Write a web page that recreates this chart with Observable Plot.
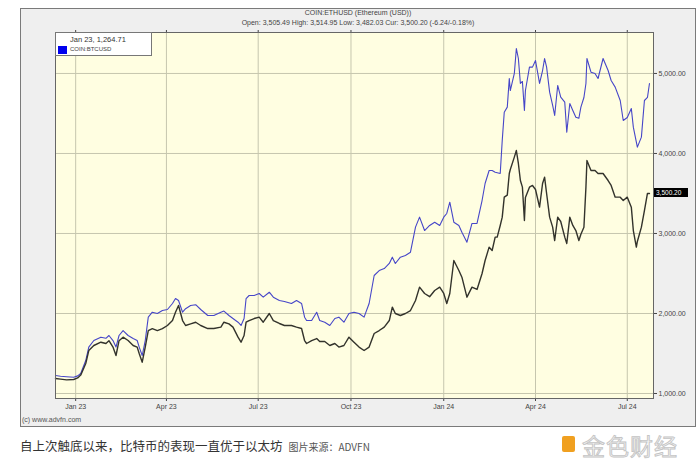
<!DOCTYPE html>
<html>
<head>
<meta charset="utf-8">
<script src="https://cdn.jsdelivr.net/npm/d3@7"></script>
<script src="https://cdn.jsdelivr.net/npm/@observablehq/plot@0.6"></script>
<style>
  html, body { margin: 0; padding: 0; background: #fff; }
  #wrap { position: relative; width: 700px; height: 462px; overflow: hidden; font-family: "Liberation Sans", Arial, sans-serif; }
  #frame { position: absolute; left: 20px; top: 8px; width: 674px; height: 417px; background: #efefef; border: 1px solid #7a7a7a; }
  .t1, .t2 { position: absolute; left: 20px; width: 676px; text-align: center; color: #444; font-size: 7px; }
  .t1 { top: 9px; }
  .t2 { top: 19px; }
  #chart { position: absolute; left: 0; top: 0; }
  #legend { position: absolute; left: 55px; top: 32px; width: 97px; height: 24px; background: #fff; border: 1px solid #777; box-sizing: border-box; }
  #legend .l1 { position: absolute; left: 14px; top: 2px; font-size: 7.5px; color: #333; }
  #legend .sw { position: absolute; left: 2px; top: 13px; width: 9px; height: 8px; background: #0000ee; }
  #legend .l2 { position: absolute; left: 14px; top: 13px; font-size: 6px; color: #444; }
  #cur { position: absolute; left: 654px; width: 34px; height: 9px; background: #000; color: #fff; font-size: 6.5px; line-height: 9px; text-align: left; padding-left: 2px; box-sizing: border-box; }
  #copy { position: absolute; left: 22px; top: 416px; font-size: 7px; color: #555; }
  #cap { position: absolute; left: 20px; top: 436px; font-family: "Noto Sans CJK SC", sans-serif; font-size: 12.5px; color: #333; white-space: nowrap; }
  #cap small { font-size: 10px; color: #555; margin-left: 6px; }
  #logo { position: absolute; left: 562px; top: 430px; }
  #logo .ic { position: absolute; left: 0; top: 6px; width: 13px; height: 16px; background: #f0a020; border-radius: 2px; }
  #logo .tx { position: absolute; left: 20px; top: -2px; font-family: "Noto Sans CJK SC", sans-serif; font-size: 23px; color: #f6f6f6; -webkit-text-stroke: 0.9px #c4c4c4; letter-spacing: 1px; white-space: nowrap; }
</style>
</head>
<body>
<div id="wrap">
  <div id="frame"></div>
  <div class="t1">COIN:ETHUSD (Ethereum (USD))</div>
  <div class="t2">Open: 3,505.49 High: 3,514.95 Low: 3,482.03 Cur: 3,500.20 (-6.24/-0.18%)</div>
  <div id="chart"></div>
  <div id="legend"><div class="l1">Jan 23, 1,264.71</div><div class="sw"></div><div class="l2">COIN:BTCUSD</div></div>
  <div id="cur">3,500.20</div>
  <div id="copy">(c) www.advfn.com</div>
  <div id="cap">自上次触底以来，比特币的表现一直优于以太坊<small>图片来源：ADVFN</small></div>
  <div id="logo"><div class="ic"></div><div class="tx">金色财经</div></div>
</div>
<script>
const dates = [
"2022-12-12","2022-12-17","2022-12-23","2022-12-30","2023-01-03","2023-01-06","2023-01-11","2023-01-14","2023-01-19","2023-01-26",
"2023-01-31","2023-02-03","2023-02-07","2023-02-10","2023-02-13","2023-02-17","2023-02-22","2023-02-27","2023-03-03","2023-03-05",
"2023-03-08","2023-03-11","2023-03-14","2023-03-18","2023-03-23","2023-03-28","2023-04-02","2023-04-07","2023-04-10","2023-04-13",
"2023-04-17","2023-04-20","2023-04-25","2023-04-30","2023-05-05","2023-05-12","2023-05-18","2023-05-25","2023-05-28","2023-06-02",
"2023-06-06","2023-06-11","2023-06-14","2023-06-17","2023-06-19","2023-06-22","2023-06-27","2023-07-02","2023-07-06","2023-07-12",
"2023-07-16","2023-07-22","2023-07-27","2023-08-03","2023-08-08","2023-08-13","2023-08-16","2023-08-18","2023-08-23","2023-08-28",
"2023-08-31","2023-09-05","2023-09-10","2023-09-15","2023-09-19","2023-09-24","2023-09-29","2023-10-04","2023-10-09","2023-10-14",
"2023-10-19","2023-10-24","2023-10-29","2023-11-03","2023-11-08","2023-11-11","2023-11-14","2023-11-19","2023-11-24","2023-11-29",
"2023-12-04","2023-12-08","2023-12-13","2023-12-18","2023-12-23","2023-12-28","2024-01-01","2024-01-04","2024-01-07","2024-01-11",
"2024-01-16","2024-01-19","2024-01-24","2024-01-29","2024-02-03","2024-02-08","2024-02-11","2024-02-15","2024-02-18","2024-02-21",
"2024-02-23","2024-02-26","2024-02-28","2024-03-01","2024-03-04","2024-03-06","2024-03-07","2024-03-11","2024-03-13","2024-03-15",
"2024-03-17","2024-03-19","2024-03-21","2024-03-22","2024-03-26","2024-03-29","2024-04-01","2024-04-05","2024-04-08","2024-04-10",
"2024-04-12","2024-04-15","2024-04-18","2024-04-20","2024-04-23","2024-04-26","2024-04-30","2024-05-02","2024-05-05","2024-05-08",
"2024-05-11","2024-05-14","2024-05-16","2024-05-19","2024-05-21","2024-05-22","2024-05-26","2024-05-30","2024-06-02","2024-06-07",
"2024-06-12","2024-06-15","2024-06-19","2024-06-24","2024-06-27","2024-07-01","2024-07-05","2024-07-07","2024-07-10","2024-07-11",
"2024-07-15","2024-07-18","2024-07-21","2024-07-23"
];
const btcRel = [
1225,1215,1210,1204,1220,1250,1412,1580,1662,1704,
1690,1725,1662,1580,1725,1787,1725,1687,1662,1580,
1475,1662,1954,2016,2000,2037,2050,2125,2187,2162,
2016,2060,2100,2110,2050,1975,1975,2016,2030,1975,
1937,1891,1850,1937,2187,2225,2225,2250,2204,2266,
2204,2162,2150,2125,2162,2125,1954,1912,1912,2016,
1912,1891,1850,1937,1954,1891,2000,2016,2000,1954,
2125,2475,2537,2562,2625,2704,2625,2704,2725,2766,
3079,3204,3037,3100,3141,3100,3204,3250,3391,3141,
3100,3016,2891,3125,3125,3412,3625,3787,3787,3766,
3760,3750,4162,4516,4579,4937,4787,5000,5312,5187,
4875,4900,4537,4787,5079,5079,5162,4875,5037,5187,
5079,4766,4600,4475,4850,4704,4641,4266,4625,4537,
4454,4440,4579,4700,4875,5187,5016,5000,4937,5187,
5037,4912,4829,4662,4412,4450,4562,4329,4141,4079,
4204,4662,4700,4875
];
const eth = [
1187,1180,1170,1175,1195,1230,1375,1537,1600,1641,
1625,1660,1580,1475,1660,1704,1662,1600,1580,1500,
1391,1580,1787,1810,1787,1810,1850,1912,2016,2100,
1912,1850,1870,1891,1850,1812,1812,1830,1891,1870,
1830,1704,1641,1725,1891,1912,1937,1954,1891,2000,
1912,1875,1850,1850,1830,1812,1662,1625,1662,1687,
1650,1650,1600,1625,1580,1600,1704,1641,1580,1537,
1580,1750,1787,1830,1912,2079,2000,1975,2000,2037,
2162,2329,2250,2210,2287,2329,2250,2125,2250,2662,
2537,2454,2204,2329,2300,2500,2662,2829,2787,2954,
2954,3100,3204,3454,3480,3750,3800,3954,4037,3875,
3662,3579,3162,3450,3579,3600,3550,3329,3625,3704,
3500,3204,3079,2912,3204,3150,2954,2875,3204,3100,
3037,2912,2990,3079,3579,3912,3787,3787,3750,3750,
3662,3600,3454,3454,3412,3454,3329,3037,2829,2900,
3079,3287,3500,3500
];
const xTicks = ["2023-01-01","2023-04-01","2023-07-01","2023-10-01","2024-01-01","2024-04-01","2024-07-01"];
const yTicks = [1000, 2000, 3000, 4000, 5000];
const current = 3500.20;

const parse = d3.utcParse("%Y-%m-%d");
const rows = dates.map((d, i) => ({date: parse(d), btc: btcRel[i], eth: eth[i]}));
const xt = xTicks.map(parse);

const plot = Plot.plot({
  width: 700,
  height: 428,
  marginLeft: 55,
  marginRight: 47,
  marginTop: 32,
  marginBottom: 30,
  style: {background: "transparent", fontFamily: "Liberation Sans, Arial, sans-serif", fontSize: "7px", color: "#444", overflow: "visible"},
  x: {type: "utc", domain: [parse("2022-12-12"), parse("2024-07-27")]},
  y: {domain: [937.5, 5512]},
  marks: [
    Plot.frame({fill: "#fffee1", stroke: null}),
    Plot.gridX(xt, {stroke: "#c6c6ae", strokeOpacity: 1}),
    Plot.gridY(yTicks, {stroke: "#c6c6ae", strokeOpacity: 1}),
    Plot.axisX(xt, {anchor: "bottom", tickSize: 3, tickPadding: 3, tickFormat: d3.utcFormat("%b %y"), label: null, fill: "#444"}),
    Plot.axisX(xt, {anchor: "top", tickSize: 3, tickFormat: () => "", label: null}),
    Plot.axisY(yTicks, {anchor: "right", tickSize: 3, tickPadding: 2, tickFormat: d3.format(",.2f"), label: null, fill: "#444"}),
    Plot.line(rows, {x: "date", y: "btc", stroke: "#4646c8", strokeWidth: 1.1}),
    Plot.line(rows, {x: "date", y: "eth", stroke: "#33332c", strokeWidth: 1.4}),
    Plot.frame({stroke: "#666"})
  ]
});
document.getElementById("chart").appendChild(plot);
const cy = plot.scale("y").apply(current);
document.getElementById("cur").style.top = (cy - 4.5) + "px";
</script>
</body>
</html>
